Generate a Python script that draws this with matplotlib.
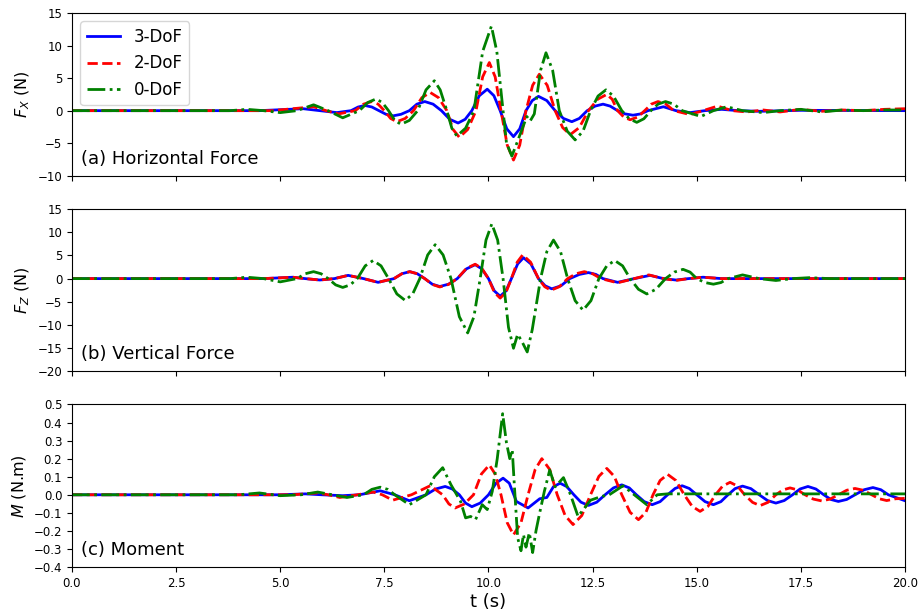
import matplotlib
matplotlib.use("Agg")
import matplotlib.pyplot as plt

# ---------------- data ----------------
# Each series: list of (t [s], value) points
# (peaks, troughs, zero crossings and flank points).
series_names = ["3-DoF", "2-DoF", "0-DoF"]

# (a) Horizontal force F_X (N)
fx_3dof = [(0, 0), (4.5, 0), (5.55, 0.3), (5.95, 0), (6.36, -0.3), (6.7, 0), (6.87, 0.56), (7.03, 0.8),
           (7.2, 0.56), (7.37, 0), (7.54, -0.56), (7.71, -0.8), (7.9, -0.56), (8.1, 0), (8.28, 1.0),
           (8.47, 1.4), (8.67, 1.0), (8.87, 0), (9.07, -1.33), (9.27, -1.9), (9.44, -1.33), (9.6, 0),
           (9.78, 2.3), (9.97, 3.3), (10.13, 2.3), (10.28, 0), (10.44, -2.8), (10.6, -4.0),
           (10.75, -2.8), (10.9, 0), (11.05, 1.55), (11.2, 2.2), (11.4, 1.55), (11.6, 0),
           (11.8, -1.2), (12.0, -1.7), (12.18, -1.2), (12.37, 0), (12.56, 0.7), (12.75, 1.0),
           (12.92, 0.7), (13.1, 0), (13.28, -0.5), (13.47, -0.7), (13.65, -0.5), (13.83, 0),
           (14.2, 0.6), (14.5, 0), (14.84, -0.3), (15.2, 0), (15.6, 0.2), (16.0, 0), (16.5, -0.1),
           (17.5, 0.05), (20, 0)]

fx_2dof = [(0, 0), (4.8, 0), (5.8, 0.6), (6.1, 0), (6.4, -0.5), (6.8, 0), (7.0, 1.0), (7.2, 1.4),
           (7.35, 1.0), (7.5, 0), (7.65, -1.2), (7.8, -1.7), (8.0, -1.2), (8.2, 0), (8.4, 2.0),
           (8.6, 2.8), (8.8, 2.0), (9.0, 0), (9.15, -2.9), (9.3, -4.1), (9.5, -2.9), (9.7, 0),
           (9.86, 5.2), (10.02, 7.4), (10.16, 5.2), (10.3, 0), (10.45, -5.3), (10.6, -7.6),
           (10.75, -5.3), (10.9, 0), (11.06, 3.9), (11.22, 5.6), (11.41, 3.9), (11.6, 0),
           (11.78, -2.6), (11.96, -3.7), (12.18, -2.6), (12.4, 0), (12.62, 1.75), (12.84, 2.5),
           (12.97, 1.75), (13.1, 0), (13.25, -1.0), (13.4, -1.4), (13.58, -1.0), (13.75, 0),
           (13.91, 1.0), (14.07, 1.4), (14.26, 1.0), (14.45, 0), (14.84, -0.6), (15.15, 0),
           (15.5, 0.7), (15.85, 0), (16.2, -0.2), (16.6, 0.1), (17.0, -0.2), (17.5, 0.2),
           (18.0, -0.1), (18.5, 0.1), (19.0, 0), (19.5, 0.2), (20, 0.3)]

fx_0dof = [(0, 0), (3.8, 0), (4.2, 0.2), (4.6, 0), (5.0, -0.3), (5.4, 0), (5.8, 0.9), (6.15, 0),
           (6.5, -1.1), (6.9, 0), (7.1, 1.25), (7.3, 1.8), (7.45, 1.25), (7.6, 0), (7.75, -1.5),
           (7.9, -2.1), (8.1, -1.5), (8.3, 0), (8.5, 3.2), (8.7, 4.6), (8.84, 3.2), (9.0, 0),
           (9.12, -2.7), (9.24, -3.9), (9.45, -2.7), (9.65, 0), (9.86, 9.1), (10.07, 13.0),
           (10.2, 9.1), (10.43, -4.9), (10.56, -7.0), (10.68, -5.0), (10.92, -0.9), (11.0, -1.6),
           (11.1, -0.5), (11.25, 6.2), (11.38, 8.9), (11.54, 6.2), (11.7, 0), (11.89, -3.15),
           (12.08, -4.5), (12.27, -3.15), (12.45, 0), (12.63, 2.25), (12.82, 3.2), (13.0, 2.25),
           (13.2, 0), (13.38, -1.25), (13.56, -1.8), (13.73, -1.25), (13.9, 0), (14.07, 1.0),
           (14.25, 1.4), (14.45, 1.0), (14.65, 0), (15.1, -0.9), (15.4, 0), (15.72, 0.6),
           (16.1, 0), (16.6, -0.3), (17.0, 0), (17.5, 0.2), (18.0, -0.2), (18.5, 0.1), (19.0, 0),
           (19.5, 0.1), (20, 0.1)]

# (b) Vertical force F_Z (N)
fz_3dof = [(0, 0), (4.6, 0), (5.3, 0.3), (5.6, 0), (5.95, -0.3), (6.3, 0), (6.63, 0.7), (7.0, 0),
           (7.35, -0.8), (7.73, 0), (7.92, 1.05), (8.11, 1.5), (8.29, 1.05), (8.47, 0),
           (8.65, -1.2), (8.83, -1.7), (9.04, -1.2), (9.25, 0), (9.47, 2.1), (9.68, 3.0),
           (9.84, 2.1), (10.0, 0), (10.14, -2.65), (10.28, -3.8), (10.42, -2.65), (10.55, 0),
           (10.7, 3.15), (10.84, 4.5), (11.02, 3.15), (11.2, 0), (11.36, -1.55), (11.52, -2.2),
           (11.74, -1.55), (11.95, 0), (12.18, 0.9), (12.4, 1.3), (12.58, 0.9), (12.75, 0),
           (13.1, -0.8), (13.5, 0), (13.88, 0.7), (14.2, 0), (14.5, -0.3), (14.8, 0), (15.15, 0.3),
           (15.6, 0), (16.2, 0), (20, 0)]

fz_2dof = [(0, 0), (4.6, 0), (5.3, 0.3), (5.6, 0), (5.95, -0.3), (6.3, 0), (6.63, 0.7), (7.0, 0),
           (7.35, -0.8), (7.73, 0), (7.92, 1.05), (8.11, 1.5), (8.29, 1.05), (8.47, 0),
           (8.65, -1.25), (8.83, -1.8), (9.04, -1.25), (9.25, 0), (9.47, 2.2), (9.68, 3.1),
           (9.84, 2.2), (10.0, 0), (10.14, -2.95), (10.28, -4.2), (10.42, -2.95), (10.55, 0),
           (10.69, 3.55), (10.82, 5.1), (11.01, 3.55), (11.2, 0), (11.35, -1.75), (11.5, -2.5),
           (11.7, -1.75), (11.9, 0), (12.1, 1.05), (12.3, 1.5), (12.5, 1.05), (12.7, 0),
           (13.1, -0.9), (13.5, 0), (13.85, 0.8), (14.2, 0), (14.5, -0.4), (14.8, 0), (15.15, 0.3),
           (15.6, 0), (16.2, 0), (20, 0)]

fz_0dof = [(0, 0), (3.8, 0), (4.2, 0.3), (4.6, 0), (5.0, -0.7), (5.4, 0), (5.6, 1.05), (5.8, 1.5),
           (5.98, 1.05), (6.15, 0), (6.33, -1.35), (6.5, -1.9), (6.68, -1.35), (6.85, 0),
           (7.04, 2.75), (7.23, 3.9), (7.42, 2.75), (7.6, 0), (7.8, -3.3), (8.0, -4.7),
           (8.18, -3.3), (8.35, 0), (8.54, 5.1), (8.72, 7.3), (8.91, 5.1), (9.1, 0), (9.3, -8.2),
           (9.5, -11.7), (9.65, -8.2), (9.8, 0), (9.94, 8.3), (10.08, 11.8), (10.22, 8.3),
           (10.35, 0), (10.48, -10.5), (10.6, -15.0), (10.7, -12.0), (10.8, -13.5), (10.93, -15.8),
           (11.05, -11.0), (11.25, 0), (11.4, 5.8), (11.56, 8.3), (11.73, 5.8), (11.9, 0),
           (12.08, -4.75), (12.27, -6.8), (12.46, -4.75), (12.65, 0), (12.84, 2.75), (13.03, 3.9),
           (13.22, 2.75), (13.4, 0), (13.6, -2.3), (13.8, -3.3), (14.02, -2.3), (14.25, 0),
           (14.46, 1.4), (14.67, 2.0), (14.84, 1.4), (15.0, 0), (15.2, -0.85), (15.4, -1.2),
           (15.58, -0.85), (15.75, 0), (16.1, 0.8), (16.5, 0), (16.9, -0.4), (17.3, 0),
           (17.7, 0.2), (18.2, 0), (20, 0)]

# (c) Moment M (N.m)
m_3dof = [(0, 0), (5.0, 0), (5.6, 0.005), (6.0, 0), (6.5, -0.005), (6.9, 0), (7.4, 0.022),
          (7.75, 0), (8.1, -0.033), (8.5, 0), (8.73, 0.032), (8.96, 0.046), (9.13, 0.032),
          (9.3, 0), (9.45, -0.046), (9.6, -0.066), (9.8, -0.046), (10.0, 0), (10.18, 0.064),
          (10.35, 0.092), (10.5, 0.064), (10.67, -0.037), (10.95, -0.073), (11.23, -0.022),
          (11.4, -0.015), (11.56, 0.045), (11.72, 0.064), (11.88, 0.045), (12.05, 0),
          (12.22, -0.041), (12.4, -0.059), (12.6, -0.041), (12.8, 0), (13.0, 0.038), (13.2, 0.055),
          (13.38, 0.038), (13.55, 0), (13.74, -0.038), (13.93, -0.055), (14.12, -0.038), (14.3, 0),
          (14.48, 0.035), (14.65, 0.05), (14.82, 0.035), (15.0, 0), (15.2, -0.038), (15.4, -0.055),
          (15.58, -0.038), (15.75, 0), (15.92, 0.034), (16.1, 0.048), (16.3, 0.034), (16.5, 0),
          (16.7, -0.032), (16.9, -0.046), (17.1, -0.032), (17.3, 0), (17.48, 0.032),
          (17.67, 0.046), (17.86, 0.032), (18.05, 0), (18.22, -0.026), (18.4, -0.037),
          (18.6, -0.026), (18.8, 0), (19.02, 0.028), (19.23, 0.04), (19.42, 0.028), (19.6, 0),
          (20, -0.033)]

m_2dof = [(0, 0), (5.3, 0), (5.9, 0.01), (6.15, 0), (6.43, -0.015), (6.85, 0), (7.23, 0.015),
          (7.45, 0), (7.7, -0.03), (8.15, 0), (8.6, 0.05), (8.9, 0), (9.05, -0.051), (9.2, -0.073),
          (9.42, -0.051), (9.64, 0), (9.83, 0.115), (10.02, 0.165), (10.16, 0.115), (10.3, 0),
          (10.45, -0.155), (10.6, -0.222), (10.78, -0.155), (10.95, 0), (11.12, 0.14), (11.28, 0.2),
          (11.47, 0.14), (11.65, 0), (11.84, -0.115), (12.03, -0.165), (12.24, -0.115), (12.45, 0),
          (12.65, 0.102), (12.84, 0.146), (13.02, 0.102), (13.2, 0), (13.4, -0.097), (13.6, -0.138),
          (13.78, -0.097), (13.95, 0), (14.12, 0.079), (14.3, 0.113), (14.5, 0.079), (14.7, 0),
          (14.89, -0.064), (15.08, -0.092), (15.27, -0.064), (15.45, 0), (15.62, 0.048),
          (15.8, 0.069), (15.98, 0.048), (16.15, 0), (16.34, -0.042), (16.52, -0.06),
          (16.71, -0.042), (16.9, 0), (17.07, 0.027), (17.24, 0.038), (17.42, 0.027), (17.6, 0),
          (17.8, -0.024), (18.0, -0.034), (18.2, -0.024), (18.4, 0), (18.6, 0.025), (18.8, 0.035),
          (19.0, 0.025), (19.2, 0), (19.38, -0.022), (19.56, -0.032), (19.78, -0.022), (20, -0.02)]

m_0dof = [(0, 0), (4.0, 0), (4.5, 0.01), (5.0, -0.005), (5.5, 0), (5.9, 0.015), (6.25, 0),
          (6.6, -0.015), (7.0, 0), (7.2, 0.03), (7.4, 0.042), (7.58, 0.03), (7.75, 0),
          (8.1, -0.055), (8.5, 0), (8.7, 0.1), (8.9, 0.15), (9.1, 0.055), (9.33, -0.037),
          (9.45, -0.128), (9.57, -0.12), (9.69, -0.137), (9.85, -0.055), (9.97, -0.082),
          (10.09, 0.018), (10.21, 0.2), (10.34, 0.449), (10.43, 0.29), (10.51, 0.2), (10.57, 0.25),
          (10.62, 0.055), (10.7, -0.238), (10.78, -0.31), (10.84, -0.22), (10.9, -0.29),
          (10.98, -0.21), (11.06, -0.32), (11.14, -0.2), (11.22, -0.11), (11.34, 0.018),
          (11.47, 0.137), (11.6, 0.044), (11.8, 0.095), (11.97, 0), (12.15, -0.12), (12.45, -0.03),
          (12.7, -0.01), (12.9, 0), (13.23, 0.05), (13.5, 0), (13.8, -0.055), (14.05, 0),
          (14.3, 0.005), (20, 0.005)]

panel_titles = ["(a) Horizontal Force", "(b) Vertical Force", "(c) Moment"]
y_labels = ["$F_X$ (N)", "$F_Z$ (N)", "$M$ (N.m)"]
y_ticks = [[-10, -5, 0, 5, 10, 15],
           [-20, -15, -10, -5, 0, 5, 10, 15],
           [-0.4, -0.3, -0.2, -0.1, 0.0, 0.1, 0.2, 0.3, 0.4, 0.5]]
x_ticks = [0.0, 2.5, 5.0, 7.5, 10.0, 12.5, 15.0, 17.5, 20.0]

panels = [
    [fx_3dof, fx_2dof, fx_0dof],
    [fz_3dof, fz_2dof, fz_0dof],
    [m_3dof, m_2dof, m_0dof],
]

# ---------------- styling ----------------
colors = ["blue", "red", "green"]
styles = ["-", "--", "-."]
widths = [2.0, 2.0, 2.0]

fig = plt.figure(figsize=(9.23, 6.11), dpi=100)
boxes = [
    [0.078, 0.7125, 0.9025, 0.2660],
    [0.078, 0.3920, 0.9025, 0.2660],
    [0.078, 0.0720, 0.9025, 0.2660],
]

for i in range(3):
    ax = fig.add_axes(boxes[i])
    for j in range(3):
        pts = panels[i][j]
        t = [p[0] for p in pts]
        v = [p[1] for p in pts]
        ax.plot(t, v, color=colors[j], linestyle=styles[j], linewidth=widths[j],
                label=series_names[j], solid_joinstyle="round", dash_joinstyle="round")
    ax.set_xlim(0, 20)
    ax.set_ylim(y_ticks[i][0], y_ticks[i][-1])
    ax.set_yticks(y_ticks[i])
    ax.set_xticks(x_ticks)
    if i == 2:
        ax.set_yticklabels([f"{y:.1f}".replace("-", "\u2212") for y in y_ticks[i]])
        ax.set_xticklabels([f"{x:.1f}" for x in x_ticks])
        ax.set_xlabel("t (s)", fontsize=13, labelpad=2)
    else:
        ax.set_xticklabels([])
    ax.tick_params(labelsize=8.5, direction="out", length=3.5)
    ax.set_ylabel(y_labels[i], fontsize=11.5)
    ax.text(0.011, 0.05, panel_titles[i], transform=ax.transAxes, fontsize=13,
            ha="left", va="bottom")
    if i == 0:
        ax.legend(loc="upper left", fontsize=12, handlelength=2.0,
                  borderpad=0.4, labelspacing=0.5, framealpha=0.8)

fig.savefig("out.png", dpi=100)
